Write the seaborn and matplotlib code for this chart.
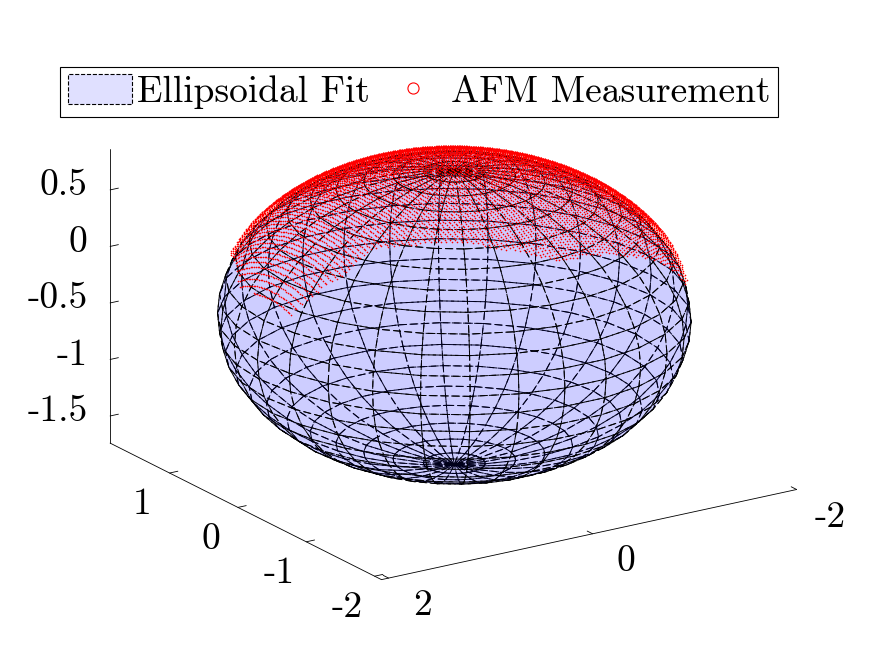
import numpy as np
import matplotlib
matplotlib.use("Agg")
import matplotlib.pyplot as plt
import seaborn as sns
from matplotlib.path import Path
from matplotlib.patches import Patch
from matplotlib.lines import Line2D
from matplotlib.transforms import ScaledTranslation

# --- ellipsoidal fit ---
center = [0.037, -0.132, -0.418]
radii = [1.93, 1.93, 1.30]
n_lat = 24
n_lon = 30

# --- AFM scan outline in the xy plane ---
afm_x = [1.88, 1.85, 1.51, 1.20, 0.98, 0.70, 0.40, -0.01, -0.75, -1.41, -1.52, -1.80, -1.26, 0.04, 1.45, 1.82]
afm_y = [-0.13, -0.47, -0.68, -0.70, -0.90, -1.08, -1.32, -1.57, -1.50, -1.35, -1.22, -0.13, 1.17, 1.71, 1.05, 0.35]
afm_step_x = 0.035
afm_step_y = 0.025
afm_grow = 1.02
afm_lift = 1.03

# --- axes ---
xlim = (-1.92, 2.07)
ylim = (-2.10, 1.87)
zlim = (-1.74, 0.864)
xticks = [-2, 0, 2]
yticks = [-2, -1, 0, 1]
zticks = [-1.5, -1, -0.5, 0, 0.5]
xticklabels = ["-2", "0", "2"]
yticklabels = ["-2", "-1", "0", "1"]
zticklabels = ["-1.5", "-1", "-0.5", "0", "0.5"]

sns.set_style("white")
plt.rcParams["font.family"] = ["cmr10", "DejaVu Serif"]
plt.rcParams["axes.unicode_minus"] = False
plt.rcParams["mathtext.fontset"] = "cm"
plt.rcParams["text.color"] = "black"
plt.rcParams["xtick.color"] = "black"
plt.rcParams["ytick.color"] = "black"
plt.rcParams["axes.labelcolor"] = "black"

fig = plt.figure(figsize=(8.75, 6.56), dpi=100)
ax = fig.add_axes([0.008, 0.0, 1.0, 1.0], projection="3d", proj_type="ortho")
ax.computed_zorder = False

# ellipsoid surface
th = np.linspace(0, 2 * np.pi, n_lon + 1)
ph = np.linspace(0, np.pi, n_lat + 1)
TH, PH = np.meshgrid(th, ph)
X = center[0] + radii[0] * np.sin(PH) * np.cos(TH)
Y = center[1] + radii[1] * np.sin(PH) * np.sin(TH)
Z = center[2] + radii[2] * np.cos(PH)
surf = ax.plot_surface(X, Y, Z, rstride=1, cstride=1, shade=False,
                       linewidth=0.7, linestyle=(0, (8, 3.5)), zorder=1)
surf.set_facecolor((0, 0, 1, 0.1))
surf.set_edgecolor((0, 0, 0, 1))

# AFM measurement raster
gx, gy = np.meshgrid(np.arange(-2.0, 2.0001, afm_step_x), np.arange(-2.0, 2.0001, afm_step_y))
pts = np.column_stack([gx.ravel(), gy.ravel()])
inside = Path(np.column_stack([afm_x, afm_y])).contains_points(pts)
rho2 = ((pts[:, 0] - center[0]) / (radii[0] * afm_grow)) ** 2 + \
       ((pts[:, 1] - center[1]) / (radii[1] * afm_grow)) ** 2
keep = inside & (rho2 < 1)
afm_pts = pts[keep]
afm_z = center[2] + radii[2] * afm_lift * np.sqrt(1 - rho2[keep])
ax.scatter(afm_pts[:, 0], afm_pts[:, 1], afm_z, s=1.4, c="red", marker="o",
           linewidths=0, depthshade=False, zorder=2)

ax.set_xlim(xlim[1], xlim[0])
ax.set_ylim(*ylim)
ax.set_zlim(*zlim)
ax.set_box_aspect((xlim[1] - xlim[0], ylim[1] - ylim[0], (zlim[1] - zlim[0]) * 0.962), zoom=1.135)
ax.view_init(elev=19.3, azim=-123.3)

ax.set_xticks(xticks)
ax.set_xticklabels(xticklabels)
ax.set_yticks(yticks)
ax.set_yticklabels(yticklabels)
ax.set_zticks(zticks)
ax.set_zticklabels(zticklabels)
ax.tick_params(labelsize=27, colors="black")
ax.xaxis.set_tick_params(pad=8)
ax.zaxis.set_tick_params(pad=14)
ax.grid(False)
for axis in (ax.xaxis, ax.yaxis, ax.zaxis):
    axis.set_pane_color((1, 1, 1, 0))
    axis.pane.set_edgecolor((1, 1, 1, 0))
    axis.line.set_color("k")
    axis.line.set_linewidth(0.6)
    axis._axinfo["tick"]["inward_factor"] = 0.0
    axis._axinfo["tick"]["outward_factor"] = 0.25
    axis._axinfo["tick"]["linewidth"] = {True: 0.6, False: 0.6}
    axis._axinfo["tick"]["color"] = "k"


# nudge the tick labels to where MATLAB puts them (offsets in points)
def shift_ticklabels(axis, dx, dy, ha="center"):
    offset = ScaledTranslation(dx / 72, dy / 72, fig.dpi_scale_trans)
    base = axis.get_major_ticks

    def get_major_ticks(numticks=None):
        ticks = base(numticks)
        for t in ticks:
            t.label1.set_transform(ax.transData + offset)
            t.label1.set_horizontalalignment(ha)
        return ticks

    axis.get_major_ticks = get_major_ticks


shift_ticklabels(ax.xaxis, 11.5, 12.2)
shift_ticklabels(ax.yaxis, -5.8, 2.2)
shift_ticklabels(ax.zaxis, 28.0, 12.2, ha="right")

handles = [Patch(facecolor=(0, 0, 1, 0.12), edgecolor="k", linestyle="--", linewidth=0.8),
           Line2D([], [], marker="o", linestyle="none", markerfacecolor="none",
                  markeredgecolor="red", markersize=8, markeredgewidth=0.8)]
leg = fig.legend(handles, ["Ellipsoidal Fit", "AFM Measurement"], loc="upper center",
                 bbox_to_anchor=(0.479, 0.898), ncol=2, fontsize=27, frameon=True,
                 fancybox=False, framealpha=1, edgecolor="k", borderpad=0.2,
                 handlelength=1.7, handleheight=0.85, handletextpad=0.15,
                 columnspacing=0.3, borderaxespad=0)
leg.get_frame().set_linewidth(0.8)

fig.savefig("out.png", dpi=100)
